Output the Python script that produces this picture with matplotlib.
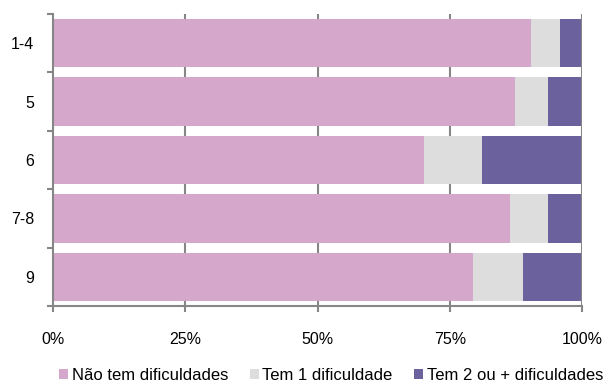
import matplotlib
matplotlib.use("Agg")
import matplotlib.pyplot as plt
import numpy as np
from matplotlib.ticker import FixedLocator, FuncFormatter

plt.rcParams["font.family"] = ["Liberation Sans", "DejaVu Sans"]

categories = ["1-4", "5", "6", "7-8", "9"]
series_names = ["Não tem dificuldades", "Tem 1 dificuldade", "Tem 2 ou + dificuldades"]
nao_tem = [90.4, 87.4, 70.1, 86.4, 79.4]
tem_1 = [5.5, 6.2, 11.0, 7.2, 9.5]
tem_2 = [4.1, 6.4, 18.9, 6.4, 11.1]
x_ticks = [0, 25, 50, 75, 100]

colors = ["#D5A8CB", "#DDDDDD", "#6B629D"]
grid_color = "#868686"

fig = plt.figure(figsize=(6.04, 3.83), dpi=100)
ax = fig.add_axes([53 / 604, 1 - 306 / 383, 529 / 604, 292 / 383])

y = np.arange(len(categories))
left = np.zeros(len(categories))
for name, vals, col in zip(series_names, [nao_tem, tem_1, tem_2], colors):
    ax.barh(y, vals, left=left, height=0.83, color=col, label=name, zorder=2)
    left = left + np.array(vals)

ax.set_xlim(0, 100)
ax.set_ylim(len(categories) - 0.5, -0.5)

# vertical gridlines
for xv in x_ticks[1:]:
    ax.axvline(xv, color=grid_color, lw=1.5, zorder=1 if xv < 100 else 3)

ax.xaxis.set_major_locator(FixedLocator(x_ticks))
ax.xaxis.set_major_formatter(FuncFormatter(lambda v, p: f"{int(v)}%"))
ax.tick_params(axis="x", length=4, width=1.5, color=grid_color, pad=14.5,
               labelsize=11.5)

ax.set_yticks(y)
ax.set_yticklabels(categories)
ax.yaxis.set_minor_locator(FixedLocator(np.arange(-0.5, len(categories), 1.0)))
ax.tick_params(axis="y", which="major", length=0, pad=13.5, labelsize=11.5)
ax.tick_params(axis="y", which="minor", length=4, width=1.5, color=grid_color)

for s in ["top", "right"]:
    ax.spines[s].set_visible(False)
for s in ["left", "bottom"]:
    ax.spines[s].set_color(grid_color)
    ax.spines[s].set_linewidth(1.5)
    ax.spines[s].set_zorder(3)

fig.legend(loc="center", bbox_to_anchor=(331 / 604, 1 - 375 / 383), ncol=3,
           frameon=False, fontsize=12, handlelength=0.55, handleheight=0.55,
           handletextpad=0.2, columnspacing=1.3, borderpad=0)

fig.savefig("out.png", dpi=100)
